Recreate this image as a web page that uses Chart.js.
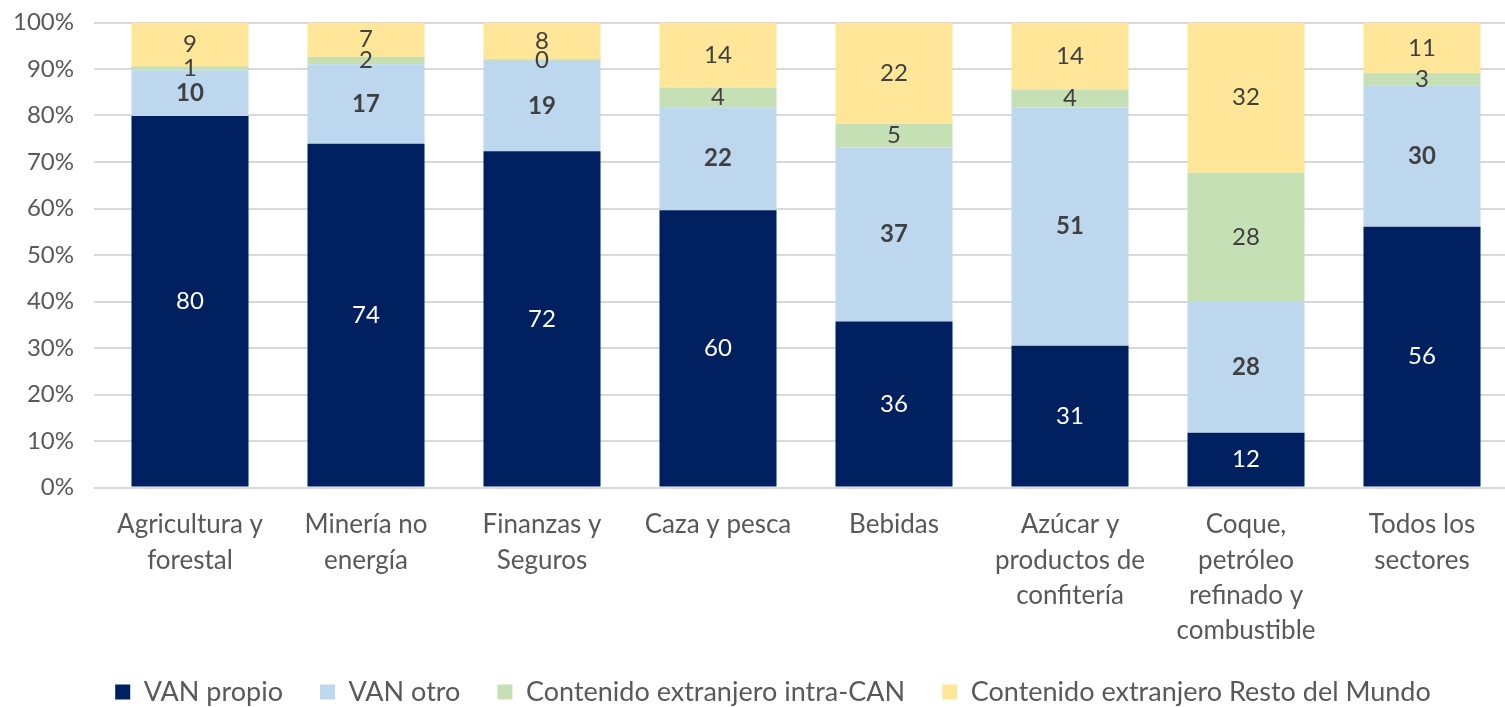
<!DOCTYPE html>
<html>
<head>
<meta charset="utf-8">
<script src="https://cdn.jsdelivr.net/npm/chart.js@4.4.1/dist/chart.umd.min.js"></script>
<style>
body { margin: 0; overflow: hidden; background: #fff; }
#contenedor { width: 1510px; height: 707px; position: relative; }
</style>
</head>
<body>
<div id="contenedor"><canvas id="grafica"></canvas></div>
<script>
const sectores = [
    ['Agricultura y', 'forestal'],
    ['Minería no', 'energía'],
    ['Finanzas y', 'Seguros'],
    ['Caza y pesca'],
    ['Bebidas'],
    ['Azúcar y', 'productos de', 'confitería'],
    ['Coque,', 'petróleo', 'refinado y', 'combustible'],
    ['Todos los', 'sectores']
];
const vanPropio = [79.9, 73.9, 72.3, 59.6, 35.7, 30.5, 11.8, 56.1];
const vanOtro = [9.8, 17.1, 19.4, 22.2, 37.4, 51.2, 28.2, 30.3];
const intraCAN = [0.9, 1.6, 0.4, 4.2, 5.1, 3.9, 27.7, 2.7];
const restoMundo = [9.4, 7.4, 7.9, 14.0, 21.8, 14.4, 32.3, 10.9];
const ticksY = [0, 10, 20, 30, 40, 50, 60, 70, 80, 90, 100];

Chart.defaults.font.family = 'Lato';

// etiquetas de datos centradas en cada segmento
const etiquetasPlugin = {
    id: 'etiquetas',
    afterLayout(chart) {
        // la leyenda del original va algo desplazada a la derecha
        chart.legend.left += 18;
        chart.legend.right += 18;
    },
    afterDatasetsDraw(chart) {
        const ctx = chart.ctx;
        chart.data.datasets.forEach((ds, i) => {
            const meta = chart.getDatasetMeta(i);
            meta.data.forEach((barra, j) => {
                ctx.save();
                ctx.font = (ds.etiquetaNegrita ? 'bold ' : '') + '24px Lato';
                ctx.fillStyle = ds.etiquetaColor;
                ctx.textAlign = 'center';
                ctx.textBaseline = 'middle';
                ctx.fillText(Math.round(ds.data[j]), barra.x, (barra.y + barra.base) / 2);
                ctx.restore();
            });
        });
    }
};

const ctx = document.getElementById('grafica').getContext('2d');
const myChart = new Chart(ctx, {
    type: 'bar',
    data: {
        labels: sectores,
        datasets: [{
            label: 'VAN propio',
            data: vanPropio,
            backgroundColor: '#002060',
            etiquetaColor: '#ffffff'
        }, {
            label: 'VAN otro',
            data: vanOtro,
            backgroundColor: '#BDD7EE',
            etiquetaColor: '#404040',
            etiquetaNegrita: true
        }, {
            label: 'Contenido extranjero intra-CAN',
            data: intraCAN,
            backgroundColor: '#C5E0B4',
            etiquetaColor: '#404040'
        }, {
            label: 'Contenido extranjero Resto del Mundo',
            data: restoMundo,
            backgroundColor: '#FFE699',
            etiquetaColor: '#404040'
        }]
    },
    options: {
        responsive: true,
        maintainAspectRatio: false,
        animation: false,
        barPercentage: 0.665,
        categoryPercentage: 1,
        layout: { padding: { top: 22.5, bottom: -8.5, left: 0, right: 0 } },
        scales: {
            x: {
                stacked: true,
                grid: { display: false, drawTicks: false },
                border: { display: false },
                ticks: {
                    color: '#595959',
                    font: { size: 26, lineHeight: 1.35 },
                    padding: 20,
                    maxRotation: 0,
                    autoSkip: false
                },
                afterFit: s => { s.height = 154; }
            },
            y: {
                stacked: true,
                min: 0,
                max: 100,
                afterBuildTicks: s => { s.ticks = ticksY.map(v => ({ value: v })); },
                grid: { color: '#D9D9D9', lineWidth: 2, tickLength: 8 },
                border: { display: false },
                ticks: {
                    color: '#595959',
                    font: { size: 24 },
                    padding: 20,
                    callback: v => v + '%'
                },
                afterFit: s => {
                    s.width = 102;
                    s.paddingTop = 0;
                    s.paddingBottom = 0;
                }
            }
        },
        plugins: {
            legend: {
                position: 'bottom',
                labels: {
                    boxWidth: 15,
                    boxHeight: 15,
                    padding: 37,
                    color: '#595959',
                    font: { size: 27 }
                }
            },
            tooltip: { enabled: false }
        }
    },
    plugins: [etiquetasPlugin]
});
</script>
</body>
</html>
